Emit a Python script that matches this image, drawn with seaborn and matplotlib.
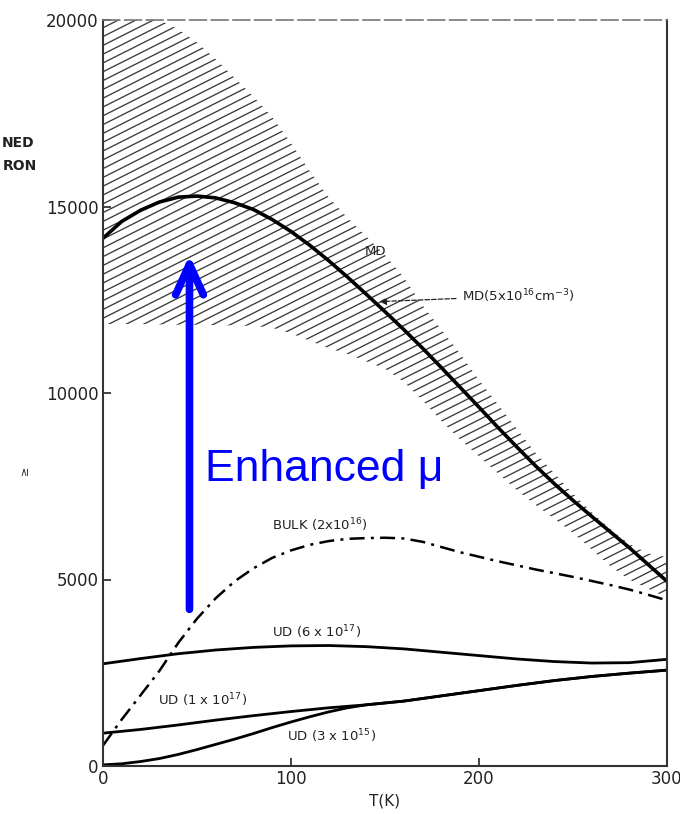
import numpy as np
import pandas as pd
import matplotlib
matplotlib.use("Agg")
import matplotlib.pyplot as plt
import seaborn as sns
from matplotlib.collections import LineCollection

# temperature grids (K)
T_md = [0, 10, 20, 30, 40, 50, 60, 70, 80, 90, 100, 110, 120, 130, 140, 150,
        160, 170, 180, 190, 200, 210, 220, 230, 240, 250, 260, 270, 280, 290, 300]
T_20 = [0, 20, 40, 60, 80, 100, 120, 140, 160, 180, 200, 220, 240, 260, 280, 300]

# modulation doped, 5x10^16
mu_md = [14150, 14600, 14900, 15120, 15250, 15280, 15230, 15100, 14920, 14650,
         14330, 13960, 13550, 13110, 12650, 12180, 11700, 11200, 10680, 10150,
         9620, 9080, 8560, 8050, 7570, 7120, 6690, 6270, 5850, 5400, 4950]

# MD spread (hatched band)
band_upper = [20000, 20000, 20000, 20000, 19750, 19400, 18950, 18450, 17950, 17400,
              16700, 15950, 15250, 14700, 14200, 13700, 13100, 12350, 11700, 11050,
              10350, 9700, 9050, 8400, 7850, 7300, 6800, 6350, 5950, 5700, 5600]
band_lower = [11850, 11850, 11850, 11840, 11830, 11830, 11820, 11810, 11800, 11750,
              11600, 11400, 11200, 11050, 10850, 10650, 10300, 9800, 9250, 8750,
              8300, 7850, 7400, 7000, 6630, 6250, 5800, 5350, 5000, 4750, 4520]

# bulk 2x10^16
mu_bulk = [550, 1250, 1900, 2550, 3300, 3950, 4500, 4950, 5300, 5580,
           5780, 5930, 6030, 6090, 6110, 6120, 6100, 6010, 5870, 5730,
           5610, 5490, 5380, 5270, 5170, 5070, 4960, 4850, 4730, 4590, 4440]

# uniformly doped
mu_ud6e17 = [2740, 2880, 3010, 3110, 3180, 3220, 3230, 3200, 3140, 3050, 2960, 2870,
             2800, 2760, 2770, 2860]
mu_ud1e17 = [880, 980, 1100, 1230, 1350, 1460, 1560, 1640, 1740, 1880, 2020, 2160,
             2290, 2400, 2490, 2570]
T_ud3e15 = [0, 10, 20, 30, 40, 50, 60, 70, 80, 90, 100, 110, 120, 130, 140,
            160, 180, 200, 220, 240, 260, 280, 300]
mu_ud3e15 = [30, 60, 120, 200, 310, 440, 580, 720, 870, 1030, 1180, 1320, 1450, 1560, 1640,
             1740, 1880, 2020, 2160, 2290, 2400, 2490, 2570]

yticks = [0, 5000, 10000, 15000, 20000]
xticks = [0, 100, 200, 300]

sns.set_style("ticks")
plt.rcParams["font.family"] = ["DejaVu Sans"]

fig = plt.figure(figsize=(6.8, 8.14), dpi=100)
ax = fig.add_axes([103 / 680, 48 / 814, 564 / 680, 746 / 814])

# hatched band drawn as slanted lines clipped to the band polygon
band = ax.fill_between(T_md, band_lower, band_upper, facecolor="none", edgecolor="none")
offs = np.arange(-0.45, 1.0, 0.0118)
segs = [[(0, c), (1, c + 0.38)] for c in offs]
lc = LineCollection(segs, colors="#3a3a3a", linewidths=0.95, transform=ax.transAxes)
lc.set_clip_path(band.get_paths()[0], band.get_transform())
ax.add_collection(lc)

df_md = pd.DataFrame({"T": T_md, "mu": mu_md})
df_bulk = pd.DataFrame({"T": T_md, "mu": mu_bulk})
sns.lineplot(data=df_md, x="T", y="mu", color="black", lw=2.6, ax=ax)
sns.lineplot(data=df_bulk, x="T", y="mu", color="black", lw=1.8, ax=ax,
             linestyle=(0, (6, 2.5, 1.2, 2.5)))
sns.lineplot(x=T_20, y=mu_ud6e17, color="black", lw=2.0, ax=ax)
sns.lineplot(x=T_20, y=mu_ud1e17, color="black", lw=2.0, ax=ax)
sns.lineplot(x=T_ud3e15, y=mu_ud3e15, color="black", lw=2.0, ax=ax)

ax.set_xlim(0, 300)
ax.set_ylim(0, 20000)
ax.set_xticks(xticks)
ax.set_yticks(yticks)
ax.set_xticklabels([str(v) for v in xticks], fontsize=12, color="#222")
ax.set_yticklabels([str(v) for v in yticks], fontsize=12, color="#222")
ax.tick_params(direction="in", length=6, width=1.2, colors="#222", pad=3)
ax.set_xlabel("T(K)", fontsize=11, color="#222", labelpad=4)
ax.set_ylabel("")
for s in ["left", "bottom", "right"]:
    ax.spines[s].set_visible(True)
    ax.spines[s].set_color("#333")
    ax.spines[s].set_linewidth(1.5)
ax.spines["top"].set_visible(True)
ax.spines["top"].set_color("#777")
ax.spines["top"].set_linewidth(1.2)
ax.spines["top"].set_linestyle((0, (10, 3)))

# curve labels
lab = dict(fontsize=9.5, color="#222")
ax.text(139, 13700, "MD", **lab)
ax.annotate("MD(5x10$^{16}$cm$^{-3}$)", xy=(147, 12450), xytext=(191, 12600),
            va="center", **lab,
            arrowprops=dict(arrowstyle="-|>", color="#222", lw=0.9, linestyle="--",
                            shrinkA=2, shrinkB=0, mutation_scale=10))
ax.text(90, 6450, "BULK (2x10$^{16}$)", va="center", **lab)
ax.text(90, 3600, "UD (6 x 10$^{17}$)", va="center", **lab)
ax.text(29, 1770, "UD (1 x 10$^{17}$)", va="center", **lab)
ax.text(98, 800, "UD (3 x 10$^{15}$)", va="center", **lab)

# blue overlay
ax.annotate("", xy=(46, 13700), xytext=(46, 4200),
            arrowprops=dict(arrowstyle="->,head_length=1.1,head_width=0.5", color="blue",
                            lw=5.5, shrinkA=0, shrinkB=0, mutation_scale=20,
                            capstyle="round", joinstyle="round"))
ax.text(54, 7950, "Enhanced \u03bc", color="blue", fontsize=32, va="center",
        family=["Liberation Sans", "DejaVu Sans"])

# partial y-axis label fragments
fig.text(34 / 680, 1 - 143 / 814, "NED", ha="right", va="center", fontsize=10,
         fontweight="bold", color="#222")
fig.text(37 / 680, 1 - 166 / 814, "RON", ha="right", va="center", fontsize=10,
         fontweight="bold", color="#222")
fig.text(25 / 680, 1 - 470 / 814, "\u2265", ha="center", va="center", fontsize=8,
         color="#222", rotation=90)

fig.savefig("out.png", dpi=100)
